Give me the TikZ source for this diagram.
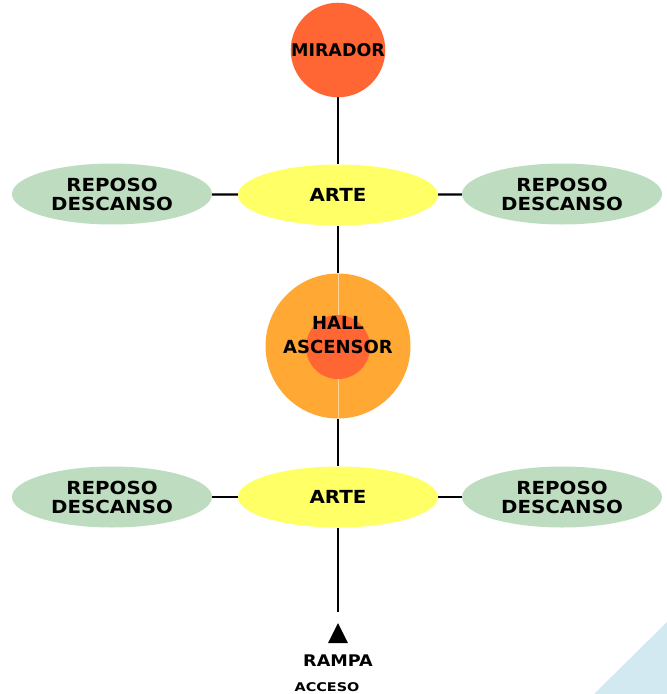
\documentclass[tikz,border=0pt]{standalone}
\usepackage{fontspec}
\setmainfont{DejaVu Sans}
\newfontfamily\widefont{DejaVu Sans}[FakeStretch=1.1]
\newfontfamily\widerfont{DejaVu Sans}[FakeStretch=1.2]
\usetikzlibrary{shapes.geometric}

\definecolor{miradorfill}{HTML}{FF6633}
\definecolor{hallfill}{HTML}{FFA833}
\definecolor{hallseam}{HTML}{FFD49A}
\definecolor{artefill}{HTML}{FFFF66}
\definecolor{restfill}{HTML}{BEDDC0}
\definecolor{cornerfill}{HTML}{D3E9F2}

\tikzset{
  label font/.style={font=\widefont\bfseries\fontsize{18}{19}\selectfont},
  room/.style={ellipse, minimum width=200pt, minimum height=61pt,
    inner sep=0pt, align=center, label font},
  artezone/.style={room, fill=artefill},
  restzone/.style={room, fill=restfill},
  link/.style={line width=2.2pt, black},
}

\begin{document}
\begin{tikzpicture}[x=1pt, y=-1pt]
\useasboundingbox (0,0) rectangle (667,694);

% pale corner
\fill[cornerfill] (594,694) -- (667,622) -- (667,694) -- cycle;

% lookout
\node[circle, fill=miradorfill, minimum size=89pt, inner sep=0pt,
  font=\bfseries\fontsize{17.5}{19}\selectfont]
  (mirador) at (338,50) {MIRADOR};

% upper level
\node[artezone] (arteA) at (338,195) {ARTE};
\node[restzone] (restAL) at (112,194) {REPOSO\\DESCANSO};
\node[restzone] (restAR) at (562,194) {REPOSO\\DESCANSO};

% lift hall
\node[circle, fill=hallfill, minimum size=145pt, inner sep=0pt] (hall) at (338,346) {};
\draw[hallseam, line width=0.8pt] (hall.north) -- (hall.south);
\node[circle, fill=miradorfill, minimum size=64pt, inner sep=0pt] (core) at (338,347) {};
\node[align=center, font=\bfseries\fontsize{18}{19}\selectfont]
  (hallText) at (338,335) {HALL\\[5pt]ASCENSOR};

% lower level
\node[artezone] (arteB) at (338,497) {ARTE};
\node[restzone] (restBL) at (112,497) {REPOSO\\DESCANSO};
\node[restzone] (restBR) at (562,497) {REPOSO\\DESCANSO};

% access ramp
\coordinate (rampEnd) at (338,612);
\node[isosceles triangle, isosceles triangle stretches, shape border rotate=90,
  fill=black, minimum width=20pt, minimum height=20pt, inner sep=0pt,
  anchor=apex] (rampMark) at (338,622.5) {};
\node[font=\widefont\bfseries\fontsize{16}{17}\selectfont] (rampa) at (338,661) {RAMPA};
\node[font=\widerfont\bfseries\fontsize{12}{13}\selectfont] (acceso) at (327,687) {ACCESO};

% connectors
\draw[link] (mirador) -- (arteA);
\draw[link] (restAL) -- (arteA);
\draw[link] (arteA) -- (restAR);
\draw[link] (arteA) -- (hall);
\draw[link] (hall) -- (arteB);
\draw[link] (restBL) -- (arteB);
\draw[link] (arteB) -- (restBR);
\draw[link] (arteB) -- (rampEnd);
\end{tikzpicture}
\end{document}
